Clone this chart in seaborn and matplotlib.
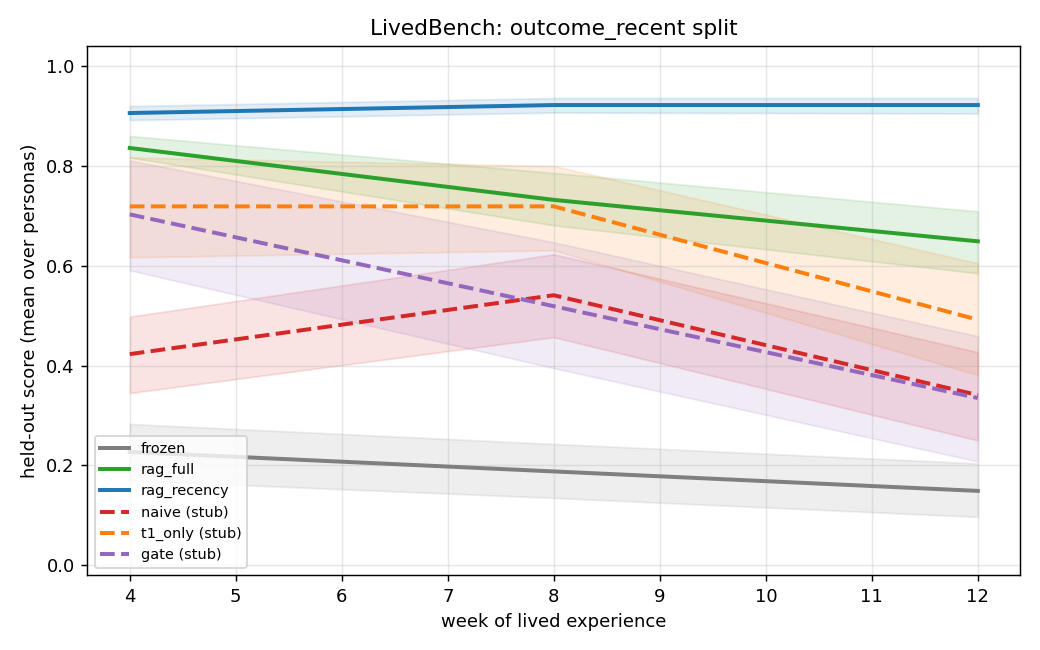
import matplotlib
matplotlib.use("Agg")
import matplotlib.pyplot as plt
import seaborn as sns
import pandas as pd

weeks = [4, 8, 12]
methods = ["frozen", "rag_full", "rag_recency", "naive (stub)", "t1_only (stub)", "gate (stub)"]

frozen_mean = [0.227, 0.188, 0.149]
frozen_lo = [0.170, 0.135, 0.097]
frozen_hi = [0.283, 0.243, 0.204]

rag_full_mean = [0.836, 0.732, 0.649]
rag_full_lo = [0.817, 0.681, 0.585]
rag_full_hi = [0.860, 0.786, 0.709]

rag_recency_mean = [0.906, 0.922, 0.922]
rag_recency_lo = [0.892, 0.907, 0.905]
rag_recency_hi = [0.920, 0.936, 0.936]

naive_mean = [0.423, 0.541, 0.341]
naive_lo = [0.345, 0.457, 0.250]
naive_hi = [0.498, 0.623, 0.427]

t1_mean = [0.719, 0.719, 0.492]
t1_lo = [0.617, 0.631, 0.381]
t1_hi = [0.817, 0.800, 0.605]

gate_mean = [0.703, 0.519, 0.335]
gate_lo = [0.591, 0.395, 0.208]
gate_hi = [0.811, 0.647, 0.459]

means = [frozen_mean, rag_full_mean, rag_recency_mean, naive_mean, t1_mean, gate_mean]
los = [frozen_lo, rag_full_lo, rag_recency_lo, naive_lo, t1_lo, gate_lo]
his = [frozen_hi, rag_full_hi, rag_recency_hi, naive_hi, t1_hi, gate_hi]

colors = {"frozen": "tab:gray", "rag_full": "tab:green", "rag_recency": "tab:blue",
          "naive (stub)": "tab:red", "t1_only (stub)": "tab:orange", "gate (stub)": "tab:purple"}
dashes = {m: ((3.7, 1.6) if "stub" in m else "") for m in methods}

rows = []
for m, mean, lo, hi in zip(methods, means, los, his):
    for w, v, l, h in zip(weeks, mean, lo, hi):
        rows.append({"week": w, "score": v, "lo": l, "hi": h, "method": m})
df = pd.DataFrame(rows)

fig, ax = plt.subplots(figsize=(8, 5), dpi=130)
for m in methods:
    sub = df[df["method"] == m]
    ax.fill_between(sub["week"], sub["lo"], sub["hi"], color=colors[m], alpha=0.13)

sns.lineplot(data=df, x="week", y="score", hue="method", style="method",
             hue_order=methods, style_order=methods, palette=colors, dashes=dashes,
             linewidth=2.2, errorbar=None, ax=ax)

ax.set_xlim(3.6, 12.4)
ax.set_ylim(-0.02, 1.04)
ax.set_xticks(range(4, 13))
ax.grid(True, alpha=0.3)
ax.set_title("LivedBench: outcome_recent split", fontsize=12)
ax.set_xlabel("week of lived experience", fontsize=10)
ax.set_ylabel("held-out score (mean over personas)", fontsize=10)
ax.tick_params(labelsize=10)
leg = ax.legend(loc="lower left", fontsize=8)

fig.subplots_adjust(left=0.084, right=0.981, top=0.929, bottom=0.115)
fig.savefig("out.png", dpi=130)
